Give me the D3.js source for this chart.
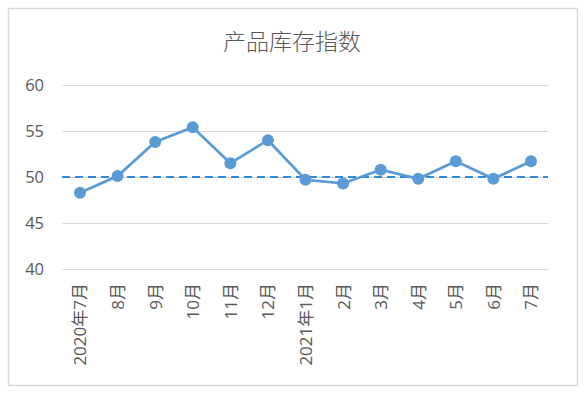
<!DOCTYPE html>
<html><head><meta charset="utf-8">
<script src="https://cdn.jsdelivr.net/npm/d3@7"></script>
<style>body{margin:0;background:#fff;}svg{display:block;}</style>
</head><body>
<svg id="c" width="584" height="393"></svg>
<script>
const categories = ["2020年7月","8月","9月","10月","11月","12月","2021年1月","2月","3月","4月","5月","6月","7月"];
const values = [48.3, 50.1, 53.8, 55.4, 51.5, 54.0, 49.7, 49.3, 50.8, 49.8, 51.7, 49.8, 51.7];
const yTicks = [40, 45, 50, 55, 60];
const refValue = 50;
const title = "产品库存指数";

const svg = d3.select("#c");
const font = "'Noto Sans CJK SC', 'Open Sans', sans-serif";
const labelFont = "'Open Sans', 'Noto Sans CJK SC', sans-serif";
svg.append("rect").attr("x",8.5).attr("y",8.5).attr("width",569).attr("height",377)
  .attr("fill","#fff").attr("stroke","#d9d9d9").attr("stroke-width",1.5);

const x = d3.scalePoint().domain(categories).range([80, 531]);
const y = d3.scaleLinear().domain([40, 60]).range([269, 85]);

svg.append("text").attr("x",292).attr("y",50).attr("text-anchor","middle")
  .attr("font-family",font).attr("font-size",23).attr("font-weight",300).attr("fill","#595959").text(title);

const yAxis = svg.append("g").attr("transform","translate(62,0)")
  .call(d3.axisLeft(y).tickValues(yTicks).tickSize(-486).tickPadding(18));
yAxis.select(".domain").remove();
yAxis.selectAll("line").attr("stroke","#d9d9d9").attr("stroke-width",1);
yAxis.selectAll("text").attr("font-family",labelFont).attr("font-size",16.5).attr("fill","#595959");

const xAxis = svg.append("g").attr("transform","translate(0,269)")
  .call(d3.axisBottom(x).tickSize(0).tickPadding(0));
xAxis.select(".domain").remove();
xAxis.selectAll("text").attr("font-family",labelFont).attr("font-size",17).attr("fill","#595959")
  .attr("transform","rotate(-90)").attr("text-anchor","end").attr("dy","0.35em").attr("x",-14).attr("y",0);

svg.append("line").attr("x1",62).attr("x2",548).attr("y1",y(refValue)).attr("y2",y(refValue))
  .attr("stroke","#2e8ad8").attr("stroke-width",2).attr("stroke-dasharray","8,5");

svg.append("path").datum(values)
  .attr("d", d3.line().x((d,i)=>x(categories[i])).y(d=>y(d)))
  .attr("fill","none").attr("stroke","#5b9bd5").attr("stroke-width",2.75);

svg.selectAll("circle.pt").data(values).enter().append("circle").attr("class","pt")
  .attr("cx",(d,i)=>x(categories[i])).attr("cy",d=>y(d)).attr("r",6).attr("fill","#5b9bd5");
</script>
</body></html>
